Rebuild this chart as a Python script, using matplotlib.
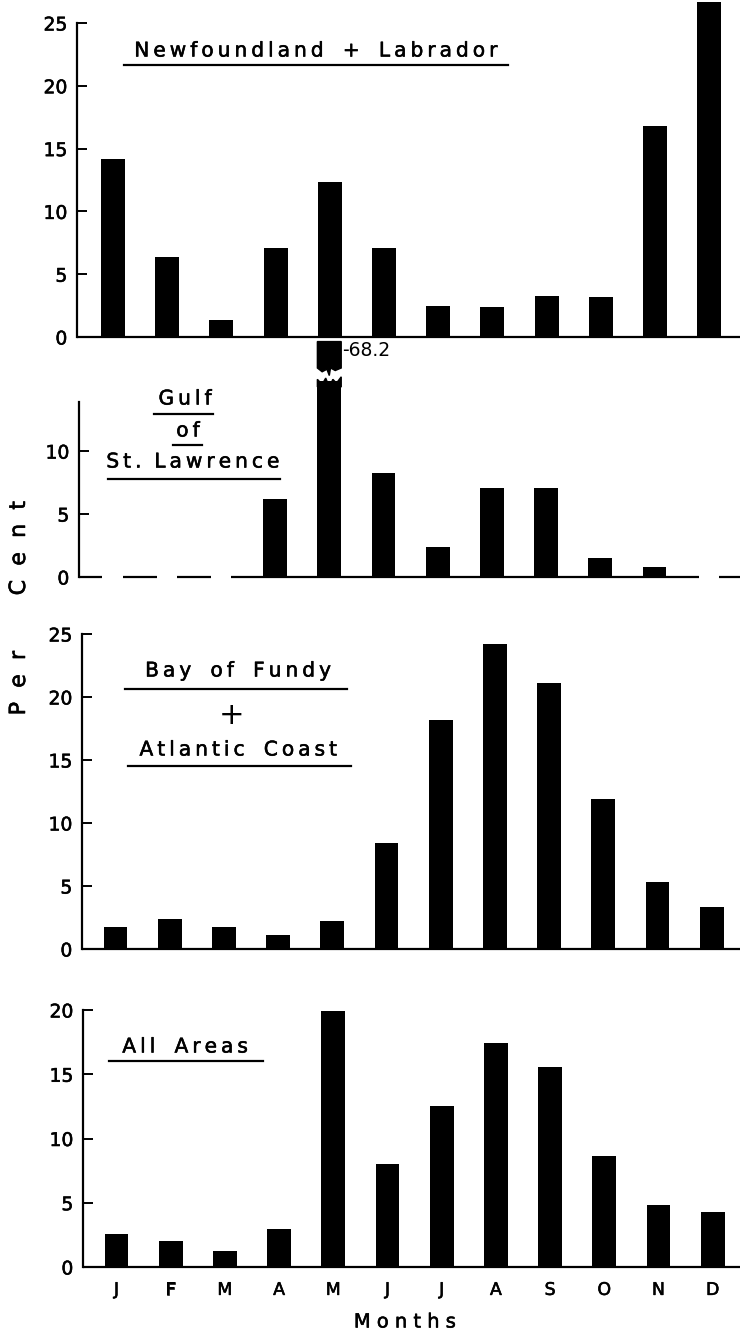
import numpy as np
import matplotlib
matplotlib.use("Agg")
import matplotlib.pyplot as plt
import matplotlib.patheffects as pe
from matplotlib.lines import Line2D
from matplotlib.patches import Polygon

plt.rcParams['font.family'] = ['DejaVu Sans']

# Monthly percentages
months = ['J', 'F', 'M', 'A', 'M', 'J', 'J', 'A', 'S', 'O', 'N', 'D']
newfoundland = [14.2, 6.4, 1.35, 7.1, 12.35, 7.1, 2.5, 2.4, 3.3, 3.2, 16.8, 26.7]
gulf = [0, 0, 0, 6.2, 68.2, 8.25, 2.4, 7.05, 7.1, 1.5, 0.8, 0]
fundy_atlantic = [1.75, 2.4, 1.75, 1.1, 2.2, 8.4, 18.2, 24.2, 21.1, 11.9, 5.3, 3.3]
all_areas = [2.55, 2.0, 1.25, 2.95, 19.9, 8.0, 12.5, 17.4, 15.6, 8.6, 4.8, 4.3]

W, H = 740, 1337
fig = plt.figure(figsize=(W / 100, H / 100), dpi=100)

SPACING = 54.2   # px between month centres
BAR_W = 0.44
HEAVY = [pe.withStroke(linewidth=0.4, foreground='black')]


def fx(x):
    return x / W


def fy(y):
    return 1 - y / H


def spaced(s, word_gap='   '):
    # letter-spaced lettering with wider gaps between words
    return '\u2009'.join(s).replace('\u2009 \u2009', word_gap)


def make_axes(left, y0, ytop, ymax, jc, ticks):
    ax = fig.add_axes([fx(left), fy(y0), fx(W - left), (y0 - ytop) / H])
    ax.set_xlim(-(jc - left) / SPACING, (W - jc) / SPACING)
    ax.set_ylim(0, ymax)
    for s in ['top', 'right', 'bottom']:
        ax.spines[s].set_visible(False)
    ax.spines['left'].set_linewidth(1.6)
    ax.set_yticks(ticks)
    ax.tick_params(axis='y', direction='in', length=7, width=1.4, pad=7, labelsize=13.5)
    for lbl in ax.get_yticklabels():
        lbl.set_path_effects(HEAVY)
    ax.set_xticks([])
    return ax


def draw_bars(ax, values, cap=None):
    x = np.arange(len(values))
    shown = [min(v, cap) if cap else v for v in values]
    ax.bar(x, shown, width=BAR_W, color='black', clip_on=False)
    # baseline, broken where a month has no value
    xl = ax.get_xlim()
    start = xl[0]
    for i, v in enumerate(values):
        if v == 0:
            ax.plot([start, i - BAR_W * 0.42], [0, 0], color='black', lw=1.6,
                    clip_on=False, solid_capstyle='butt')
            start = i + BAR_W * 0.42
    ax.plot([start, xl[1]], [0, 0], color='black', lw=1.6, clip_on=False,
            solid_capstyle='butt')
    if cap:
        for i, v in enumerate(values):
            if v > cap:
                h = BAR_W / 2
                # jagged top of the truncated bar
                top = Polygon([(i - h, cap - 0.5), (i - h, cap + 0.1), (i - h * 0.6, cap - 0.3),
                               (i - h * 0.3, cap + 0.2), (i, cap - 0.5), (i + h * 0.3, cap + 0.1),
                               (i + h * 0.6, cap - 0.2), (i + h, cap + 0.3), (i + h, cap - 0.5)],
                              closed=True, color='black', clip_on=False)
                ax.add_patch(top)
                # detached top piece carrying the real value
                b = cap + 0.7
                piece = Polygon([(i - h, b + 2.4), (i + h, b + 2.4), (i + h, b + 0.3),
                                 (i + h * 0.5, b + 0.1), (i + h * 0.1, b + 0.3), (i, b - 0.3),
                                 (i - h * 0.2, b + 0.2), (i - h * 0.6, b), (i - h, b + 0.3)],
                                closed=True, color='black', clip_on=False)
                ax.add_patch(piece)
                ax.text(i + h + 0.02, b + 1.7, f"-{v}", ha='left', va='center',
                        fontsize=13.5, clip_on=False)


def title(text, xc, yc, size=14.5, word_gap='   '):
    fig.text(fx(xc), fy(yc), spaced(text, word_gap), ha='center', va='center',
             fontsize=size, path_effects=HEAVY)


def underline(x0, x1, y):
    fig.add_artist(Line2D([fx(x0), fx(x1)], [fy(y), fy(y)], color='black', lw=1.6))


# Panel 1
ax1 = make_axes(77, 337, 23, 25, 113, [0, 5, 10, 15, 20, 25])
draw_bars(ax1, newfoundland)
title('Newfoundland + Labrador', 316, 51)
underline(124, 508, 65)

# Panel 2
ax2 = make_axes(79, 577, 402, 13.9, 112.5, [0, 5, 10])
draw_bars(ax2, gulf, cap=15.6)
title('Gulf', 185, 399)
underline(154, 213, 414)
title('of', 188, 431)
underline(173, 202, 445)
title('St. Lawrence', 193, 462, word_gap='  ')
underline(108, 280, 479)

# Panel 3
ax3 = make_axes(82, 949, 634, 25, 115.5, [0, 5, 10, 15, 20, 25])
draw_bars(ax3, fundy_atlantic)
title('Bay of Fundy', 238, 671)
underline(125, 347, 689)
fig.text(fx(232), fy(716), '+', ha='center', va='center', fontsize=22)
title('Atlantic Coast', 238, 750)
underline(128, 351, 766)

# Panel 4
ax4 = make_axes(83, 1267, 1010, 20, 116.5, [0, 5, 10, 15, 20])
draw_bars(ax4, all_areas)
ax4.set_xticks(np.arange(len(months)))
ax4.set_xticklabels(months, fontsize=12.5)
for lbl in ax4.get_xticklabels():
    lbl.set_path_effects(HEAVY)
ax4.tick_params(axis='x', length=0, pad=10)
title('All Areas', 185, 1047)
underline(109, 263, 1061)

fig.text(fx(405), fy(1322), 'M o n t h s', ha='center', va='center', fontsize=14,
         path_effects=HEAVY)
fig.text(fx(19), fy(683), 'P  e  r', ha='center', va='center', fontsize=16, rotation=90,
         path_effects=HEAVY)
fig.text(fx(19), fy(548), 'C  e  n  t', ha='center', va='center', fontsize=16, rotation=90,
         path_effects=HEAVY)

fig.savefig('out.png', dpi=100)
